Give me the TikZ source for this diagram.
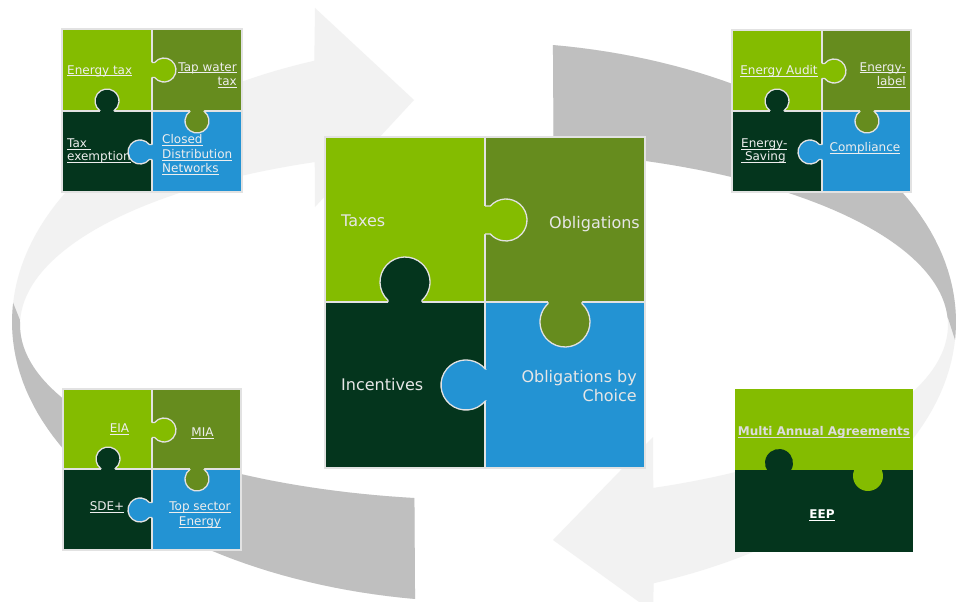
\documentclass[tikz,border=0pt]{standalone}
\usepackage{fontspec}
\setmainfont{DejaVu Sans}
\definecolor{lg}{HTML}{84BC00}
\definecolor{og}{HTML}{668C1E}
\definecolor{dg}{HTML}{04351D}
\definecolor{bl}{HTML}{2393D3}
\definecolor{pzline}{HTML}{E2E2E2}
\definecolor{arlight}{HTML}{F2F2F2}
\definecolor{ardark}{HTML}{BFBFBF}
\definecolor{txtc}{HTML}{E6E6E6}
\definecolor{txts}{HTML}{EEEEEE}
\definecolor{txtm}{HTML}{DCDCDC}
\newsavebox\ulbox
\newcommand\ulx[1]{\sbox\ulbox{#1}\rlap{\rule[-2.2pt]{\wd\ulbox}{0.9pt}}\usebox\ulbox}
\tikzset{
  tabl/.style={draw=pzline, line width=1.3pt},
  notabl/.style={draw=none},
  divl/.style={draw=pzline, line width=1.3pt},
  pzborder/.style={draw=pzline, line width=2pt},
  big/.style={font=\fontsize{16}{19}\selectfont, text=txtc, inner sep=0pt},
  sm/.style={font=\fontsize{12}{14.5}\selectfont, text=txts, inner sep=0pt},
}
% puzzle tab: edge point (#1,#2), direction #3, neck half width #4, knob centre distance #5, radius #6, colour #7, line style #8
\newcommand\ptab[8]{%
  \begin{scope}[shift={(#1,#2)}, rotate=#3]
    \pgfmathsetmacro\tabal{asin(#4/#6)}
    \pgfmathsetmacro\tabxn{#5-sqrt(#6*#6-#4*#4)}
    \fill[#7] (-1.5,-#4) -- (\tabxn,-#4) arc[start angle=-180+\tabal, end angle=180-\tabal, radius=#6] -- (-1.5,#4) -- cycle;
    \draw[#8] (0,-#4) -- (\tabxn,-#4) arc[start angle=-180+\tabal, end angle=180-\tabal, radius=#6] -- (0,#4);
  \end{scope}}
% small 2x2 puzzle: x0,y0,x1,y1,xm,ym
\newcommand\smallpz[6]{%
  \fill[lg] (#1,#2) rectangle (#5,#6);
  \fill[og] (#5,#2) rectangle (#3,#6);
  \fill[dg] (#1,#6) rectangle (#5,#4);
  \fill[bl] (#5,#6) rectangle (#3,#4);
  \draw[divl] (#5,#2) -- (#5,#4) (#1,#6) -- (#3,#6);
  \ptab{#5}{#2+41}{0}{7.5}{12}{12}{lg}{tabl}
  \ptab{#1+45}{#6}{90}{7}{10}{12}{dg}{tabl}
  \ptab{#5+45}{#6}{-90}{7}{10}{12}{og}{tabl}
  \ptab{#5}{#6+41}{180}{7.5}{12}{12}{bl}{tabl}
  \draw[pzborder] (#1,#2) rectangle (#3,#4);}
\def\leftarr{plot[domain=0:1, samples=90, variable=\s] ({484+472*cos(261.6-150.6*\s)}, {322-280*sin(261.6-150.6*\s)})
  -- (315,8) -- (414,100) -- (315,207)
  -- plot[domain=0:1, samples=90, variable=\s] ({484+464*cos(111.4+150.05*\s)}, {325-175*sin(111.4+150.05*\s)}) -- cycle}
\def\rightarr{plot[domain=0:1, samples=90, variable=\s] ({484+472*cos(81.6-150.6*\s)}, {322-280*sin(81.6-150.6*\s)})
  -- (653,612) -- (553,540) -- (653,437)
  -- plot[domain=0:1, samples=90, variable=\s] ({484+464*cos(-68.6+150.05*\s)}, {325-175*sin(-68.6+150.05*\s)}) -- cycle}
\begin{document}
\begin{tikzpicture}[x=1pt, y=-1pt]
\useasboundingbox (0,0) rectangle (962,602);
\fill[white] (0,0) rectangle (962,602);
\clip (0,0) rectangle (962,602);

% ---- circular arrows ----
\fill[arlight] \leftarr;
\begin{scope}
  \clip (22,325) -- (480,325) -- (480,700) -- (-60,700) -- (-60,200) -- (-28,200) -- cycle;
  \fill[ardark] \leftarr;
\end{scope}
\fill[arlight] \rightarr;
\begin{scope}
  \clip (480,318) -- (480,-50) -- (1000,-50) -- (1000,480) -- (948,318) -- cycle;
  \fill[ardark] \rightarr;
\end{scope}

% ---- centre puzzle ----
\fill[lg] (325,137) rectangle (485,302);
\fill[og] (485,137) rectangle (645,302);
\fill[dg] (325,302) rectangle (485,468);
\fill[bl] (485,302) rectangle (645,468);
\draw[divl] (485,137) -- (485,468) (325,302) -- (645,302);
\ptab{485}{220}{0}{14}{21}{21}{lg}{tabl}
\ptab{405}{302}{90}{17}{20}{25}{dg}{tabl}
\ptab{565}{302}{-90}{17}{20}{25}{og}{tabl}
\ptab{485}{385}{180}{16}{19}{25}{bl}{tabl}
\draw[pzborder, line width=2.5pt] (325,137) rectangle (645,468);
\node[big, anchor=west] (taxes) at (341,221) {Taxes};
\node[big, anchor=east] (oblig) at (640,224) {Obligations};
\node[big, anchor=west] (incent) at (341,385) {Incentives};
\node[big, anchor=east, align=right] (oblchoice) at (637,386) {Obligations by\\Choice};

% ---- top-left puzzle ----
\smallpz{62}{29}{242}{192}{152}{111}
\node[sm, anchor=west] (energytax) at (67,71) {\ulx{Energy tax}};
\node[sm, anchor=east, align=right] (tapwater) at (237,75) {\ulx{Tap water}\\\ulx{tax}};
\node[sm, anchor=west, align=left, font=\fontsize{12}{13}\selectfont] (taxex) at (67,151) {\ulx{Tax\ }\\\ulx{exemption}};
\node[sm, anchor=west, align=left] (closed) at (162,155) {\ulx{Closed}\\\ulx{Distribution}\\\ulx{Networks}};

% ---- top-right puzzle ----
\smallpz{732}{30}{911}{192}{822}{111}
\node[sm] (audit) at (779,71) {\ulx{Energy Audit}};
\node[sm, anchor=east, align=right] (label) at (906,75) {\ulx{Energy-}\\\ulx{label}};
\node[sm, anchor=west, align=left, font=\fontsize{12}{13.5}\selectfont] (saving) at (741,151) {\ulx{Energy-}\\\ulx{\ Saving}};
\node[sm] (compliance) at (865,148) {\ulx{Compliance}};

% ---- bottom-left puzzle ----
\smallpz{63}{389}{241}{550}{152}{469}
\node[sm] (eia) at (119.5,429) {\ulx{EIA}};
\node[sm] (mia) at (202.5,433) {\ulx{MIA}};
\node[sm] (sde) at (107,507) {\ulx{SDE+}};
\node[sm, align=center] (topsector) at (200,515) {\ulx{Top sector}\\\ulx{Energy}};

% ---- bottom-right puzzle ----
\fill[lg] (735,389) rectangle (913,470);
\fill[dg] (735,470) rectangle (913,552);
\ptab{779}{470}{90}{7}{7}{14}{dg}{notabl}
\ptab{868}{470}{-90}{8}{6}{15}{lg}{notabl}
\node[sm, font=\bfseries\fontsize{12}{14.5}\selectfont, text=txtm] (maa) at (824,432) {\ulx{Multi Annual Agreements}};
\node[sm, font=\bfseries\fontsize{12}{14.5}\selectfont, text=white] (eep) at (822,515) {\ulx{EEP}};
\end{tikzpicture}
\end{document}
